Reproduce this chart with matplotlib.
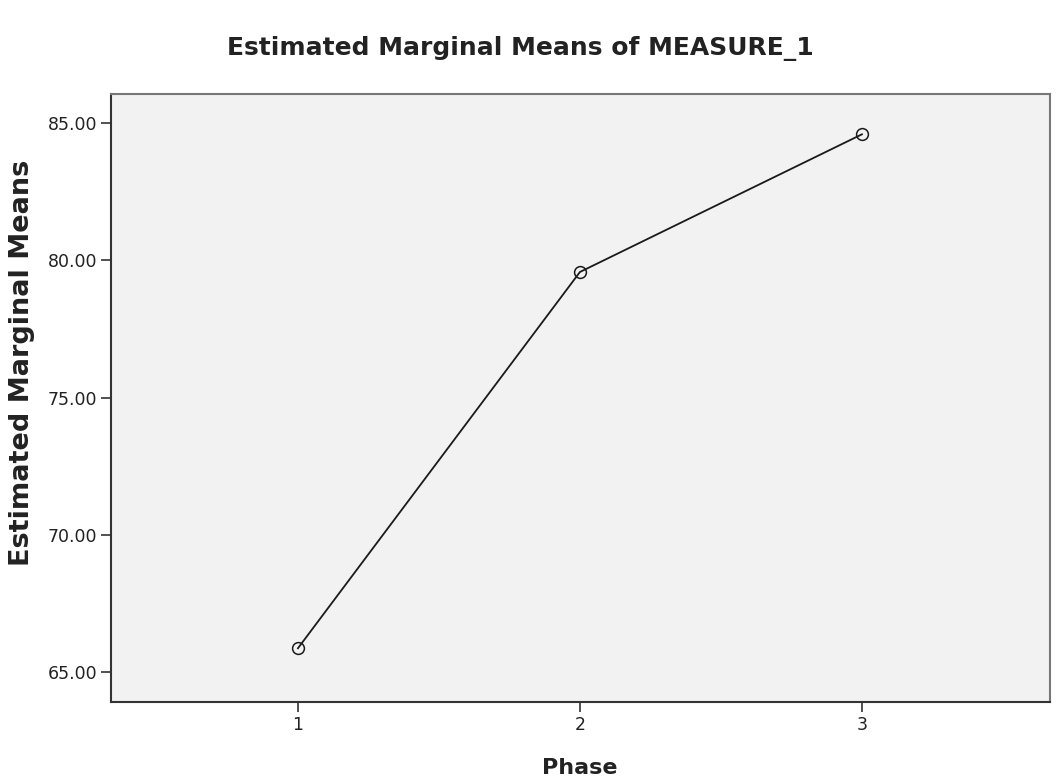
import matplotlib
matplotlib.use('Agg')
import matplotlib.pyplot as plt

# data
phase = [1, 2, 3]
means = [65.86, 79.58, 84.60]
y_ticks = [65, 70, 75, 80, 85]

fig = plt.figure(figsize=(10.57, 7.82), dpi=100)
fig.patch.set_facecolor('white')
ax = fig.add_axes([0.105, 0.1023, 0.8884, 0.7775])
ax.set_facecolor('#f2f2f2')

ax.plot(phase, means, color='#1a1a1a', linewidth=1.3, marker='o', markersize=8.5,
        markerfacecolor='none', markeredgecolor='#1a1a1a', markeredgewidth=1.1)

ax.set_xlim(0.337, 3.667)
ax.set_ylim(63.9, 86.07)
ax.set_xticks(phase)
ax.set_xticklabels([str(p) for p in phase])
ax.set_yticks(y_ticks)
ax.set_yticklabels([f'{v:.2f}' for v in y_ticks])
ax.tick_params(axis='both', direction='out', length=7, width=1.2, color='#333333',
               labelsize=12.5, labelcolor='#222222', pad=3)

for side in ['left', 'bottom']:
    ax.spines[side].set_color('#333333')
    ax.spines[side].set_linewidth(1.5)
for side in ['right', 'top']:
    ax.spines[side].set_color('#777777')
    ax.spines[side].set_linewidth(1.5)

# axis titles placed as figure text to follow the reference positions
fig.text(580 / 1057, 1 - 768 / 782, 'Phase', ha='center', va='center',
         fontsize=16, fontweight='bold', color='#222222')
fig.text(22 / 1057, 1 - 363 / 782, 'Estimated Marginal Means', ha='center', va='center',
         rotation=90, fontsize=19.5, fontweight='bold', color='#222222')
fig.text(0.492, 0.938, 'Estimated Marginal Means of MEASURE_1', ha='center', va='center',
         fontsize=18, fontweight='bold', color='#222222')

plt.savefig('out.png', dpi=100, facecolor='white')
plt.close()
